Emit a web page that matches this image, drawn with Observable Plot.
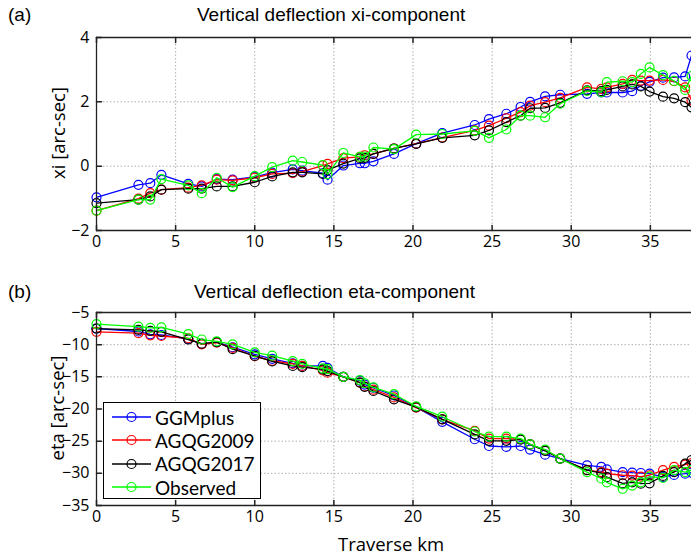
<!DOCTYPE html>
<html>
<head>
<meta charset="utf-8">
<script src="https://cdn.jsdelivr.net/npm/d3@7"></script>
<script src="https://cdn.jsdelivr.net/npm/@observablehq/plot@0.6"></script>
<style>
  body { margin: 0; background: #fff; }
  #wrap { position: relative; width: 691px; height: 557px; overflow: hidden; background: #fff; font-family: "Open Sans", sans-serif; }
  #wrap > svg { position: absolute; left: 0; }
  .ttl { position: absolute; font-family: "Liberation Sans Narrow", "Liberation Sans", Arial, sans-serif; font-size: 19px; white-space: nowrap; color: #000; line-height: 1; }
  .lab { position: absolute; font-family: "Open Sans", sans-serif; font-size: 18.5px; white-space: nowrap; color: #000; line-height: 1; }
  .rot { transform: translate(-50%, -50%) rotate(-90deg); }
  .ctr { transform: translate(-50%, -50%); }
  #legend { position: absolute; left: 103px; top: 402px; width: 156px; height: 95px; border: 1px solid #000; background: #fff; }
  .row { position: absolute; left: 0; height: 22px; line-height: 1; display: flex; align-items: center; font-family: Lato, "Open Sans", sans-serif; font-size: 19px; color: #000; }
</style>
</head>
<body>
<div id="wrap"></div>
<script>
// Traverse stations (km)
const km = [0, 2.65, 3.4, 4.1, 5.8, 6.65, 7.6, 8.6, 10.0, 11.1, 12.4, 13.0, 14.3, 14.6, 15.6, 16.65, 16.95, 17.5, 18.8, 20.2,
  21.85, 23.9, 24.8, 25.9, 26.8, 27.4, 28.35, 29.3, 31.0, 31.9, 32.25, 33.25, 33.85, 34.4, 34.95, 35.8, 36.5, 37.2, 37.6];

const seriesNames = ["GGMplus", "AGQG2009", "AGQG2017", "Observed"];
const seriesColors = ["#0000ff", "#ff0000", "#000000", "#00ff00"];

// xi component [arc-sec]
const xiGGMplus = [-0.97, -0.58, -0.53, -0.27, -0.55, -0.63, -0.40, -0.42, -0.33, -0.20, -0.10, -0.14, -0.22, -0.42, 0.02, 0.09, 0.09, 0.15, 0.38, 0.70,
  1.03, 1.28, 1.46, 1.63, 1.84, 2.00, 2.17, 2.22, 2.25, 2.29, 2.29, 2.29, 2.33, 2.50, 2.62, 2.75, 2.76, 2.79, 3.44];
const xiAGQG2009 = [-1.38, -1.01, -0.84, -0.73, -0.67, -0.60, -0.42, -0.44, -0.36, -0.24, -0.22, -0.17, 0.02, 0.07, 0.25, 0.29, 0.34, 0.38, 0.55, 0.70,
  0.89, 1.11, 1.26, 1.49, 1.68, 1.88, 1.99, 2.12, 2.45, 2.40, 2.45, 2.56, 2.68, 2.66, 2.66, 2.68, 2.64, 2.45, 2.05];
const xiAGQG2017 = [-1.15, -1.04, -0.94, -0.73, -0.70, -0.70, -0.63, -0.63, -0.50, -0.32, -0.19, -0.19, -0.24, -0.12, 0.08, 0.24, 0.26, 0.38, 0.55, 0.69,
  0.88, 0.96, 1.11, 1.37, 1.57, 1.80, 1.81, 1.97, 2.36, 2.33, 2.37, 2.48, 2.54, 2.48, 2.32, 2.16, 2.11, 1.99, 1.83];
const xiObserved = [-1.38, -1.04, -1.04, -0.40, -0.60, -0.84, -0.36, -0.65, -0.31, -0.03, 0.17, 0.13, 0.03, -0.25, 0.41, 0.29, 0.30, 0.58, 0.53, 0.98,
  1.00, 1.10, 0.88, 1.14, 1.57, 1.57, 1.52, 1.94, 2.34, 2.30, 2.61, 2.64, 2.61, 2.87, 3.07, 2.83, 2.65, 2.37, 2.80];

// eta component [arc-sec]
const etaGGMplus = [-7.5, -7.95, -8.4, -8.5, -9.1, -9.9, -9.6, -10.4, -11.5, -12.2, -12.9, -13.3, -13.3, -13.6, -15.0, -15.6, -16.2, -16.7, -17.9, -19.7,
  -22.0, -24.7, -25.75, -25.9, -25.75, -26.3, -27.1, -27.7, -28.75, -29.0, -29.4, -29.8, -29.9, -29.95, -30.05, -30.6, -30.25, -30.05, -29.9];
const etaAGQG2009 = [-8.0, -8.2, -8.55, -8.65, -9.0, -9.95, -9.7, -10.5, -11.8, -12.5, -13.0, -13.3, -14.0, -14.35, -15.0, -15.9, -16.5, -17.0, -18.2, -19.8,
  -21.6, -23.4, -24.6, -24.6, -24.7, -25.5, -26.4, -27.7, -29.5, -29.8, -30.05, -30.3, -30.35, -30.5, -30.3, -29.5, -29.0, -28.65, -28.4];
const etaAGQG2017 = [-7.5, -7.7, -7.85, -8.0, -9.2, -9.85, -9.6, -10.7, -11.75, -12.6, -13.3, -13.5, -13.85, -14.1, -15.0, -15.9, -16.55, -17.2, -18.5, -19.7,
  -21.6, -23.95, -24.95, -24.95, -24.75, -25.5, -26.5, -27.7, -29.5, -29.95, -30.6, -31.55, -31.4, -31.6, -31.55, -30.4, -29.8, -28.5, -27.95];
const etaObserved = [-6.8, -7.2, -7.4, -7.3, -8.35, -9.2, -9.5, -9.95, -11.2, -11.7, -12.55, -13.0, -13.7, -13.8, -15.0, -15.5, -16.0, -16.65, -17.7, -19.6,
  -21.2, -23.5, -24.3, -24.3, -24.6, -25.5, -26.3, -27.7, -29.8, -30.8, -31.4, -32.4, -31.9, -31.4, -30.5, -30.7, -29.5, -29.8, -29.5];

const xTicks = [0, 5, 10, 15, 20, 25, 30, 35];
const xiTicks = [-2, 0, 2, 4];
const etaTicks = [-35, -30, -25, -20, -15, -10, -5];

const xDomain = [0, 37.6];
const W = 691;

function toRows(arrays) {
  const rows = [];
  arrays.forEach((arr, i) => arr.forEach((v, j) => rows.push({series: seriesNames[i], km: km[j], v})));
  return rows;
}

const tickShape = {draw(context, l) { context.moveTo(0, 0); context.lineTo(0, -l); }};

function panel({rows, yDomain, yTicks, height, marginTop, marginBottom}) {
  const marks = [
    Plot.gridX(xTicks.filter(t => t > 0), {stroke: "#9a9a9a", strokeOpacity: 1, strokeWidth: 0.8, strokeDasharray: "1.5,2"}),
    Plot.gridY(yTicks.filter(t => t > yDomain[0] && t < yDomain[1]), {stroke: "#9a9a9a", strokeOpacity: 1, strokeWidth: 0.8, strokeDasharray: "1.5,2"})
  ];
  seriesNames.forEach(name => {
    const d = rows.filter(r => r.series === name);
    marks.push(Plot.line(d, {x: "km", y: "v", stroke: "series", strokeWidth: 1.3}));
    marks.push(Plot.dot(d, {x: "km", y: "v", stroke: "series", r: 4.5, fill: "none", strokeWidth: 1.2}));
  });
  marks.push(
    Plot.ruleY([yDomain[0]], {stroke: "#222", strokeWidth: 1.3}),
    Plot.ruleY([yDomain[1]], {stroke: "#222", strokeWidth: 1.3}),
    Plot.ruleX([xDomain[0]], {stroke: "#222", strokeWidth: 1.3}),
    Plot.vector(xTicks, {x: d => d, y: yDomain[0], length: 5, rotate: 0, anchor: "start", shape: tickShape, stroke: "#222"}),
    Plot.vector(xTicks, {x: d => d, y: yDomain[1], length: 5, rotate: 180, anchor: "start", shape: tickShape, stroke: "#222"}),
    Plot.vector(yTicks, {x: xDomain[0], y: d => d, length: 5, rotate: 90, anchor: "start", shape: tickShape, stroke: "#222"}),
    Plot.axisX(xTicks, {tickSize: 0, tickPadding: 5, label: null, fontSize: 16}),
    Plot.axisY(yTicks, {tickSize: 0, tickPadding: 7, label: null, fontSize: 16})
  );
  return Plot.plot({
    width: W, height, marginTop, marginBottom, marginLeft: 96, marginRight: 0,
    style: {fontFamily: "Open Sans, sans-serif", fontSize: "16px", color: "#000", background: "transparent"},
    x: {domain: xDomain},
    y: {domain: yDomain},
    color: {domain: seriesNames, range: seriesColors},
    marks
  });
}

const wrap = document.getElementById("wrap");

const topPanel = panel({rows: toRows([xiGGMplus, xiAGQG2009, xiAGQG2017, xiObserved]), yDomain: [-2, 4], yTicks: xiTicks, height: 260, marginTop: 37, marginBottom: 30});
topPanel.style.top = "0px";
wrap.appendChild(topPanel);

const botPanel = panel({rows: toRows([etaGGMplus, etaAGQG2009, etaAGQG2017, etaObserved]), yDomain: [-35, -5], yTicks: etaTicks, height: 297, marginTop: 52, marginBottom: 52});
botPanel.style.top = "260px";
wrap.appendChild(botPanel);

function addText(cls, text, x, y, extra) {
  const el = document.createElement("div");
  el.className = cls + (extra ? " " + extra : "");
  el.textContent = text;
  el.style.left = x + "px";
  el.style.top = y + "px";
  wrap.appendChild(el);
  return el;
}

addText("ttl", "(a)", 8, 5);
addText("ttl", "Vertical deflection xi-component", 197, 5);
addText("ttl", "(b)", 8, 282);
addText("ttl", "Vertical deflection eta-component", 194, 282);
addText("lab", "xi [arc-sec]", 58, 133, "rot");
addText("lab", "eta [arc-sec]", 57, 408, "rot");
addText("lab", "Traverse km", 391, 544, "ctr");

// Legend
const legend = document.createElement("div");
legend.id = "legend";
seriesNames.forEach((name, i) => {
  const row = document.createElement("div");
  row.className = "row";
  row.style.top = (3 + i * 23.4) + "px";
  const ns = "http://www.w3.org/2000/svg";
  const s = document.createElementNS(ns, "svg");
  s.setAttribute("width", "50"); s.setAttribute("height", "22");
  const ln = document.createElementNS(ns, "line");
  ln.setAttribute("x1", "8"); ln.setAttribute("x2", "47"); ln.setAttribute("y1", "11"); ln.setAttribute("y2", "11");
  ln.setAttribute("stroke", seriesColors[i]); ln.setAttribute("stroke-width", "1.3");
  const c = document.createElementNS(ns, "circle");
  c.setAttribute("cx", "27.5"); c.setAttribute("cy", "11"); c.setAttribute("r", "4.5");
  c.setAttribute("fill", "none"); c.setAttribute("stroke", seriesColors[i]); c.setAttribute("stroke-width", "1.2");
  s.appendChild(ln); s.appendChild(c);
  const t = document.createElement("span");
  t.textContent = name;
  t.style.marginLeft = "1px";
  row.appendChild(s); row.appendChild(t);
  legend.appendChild(row);
});
wrap.appendChild(legend);
</script>
</body>
</html>
